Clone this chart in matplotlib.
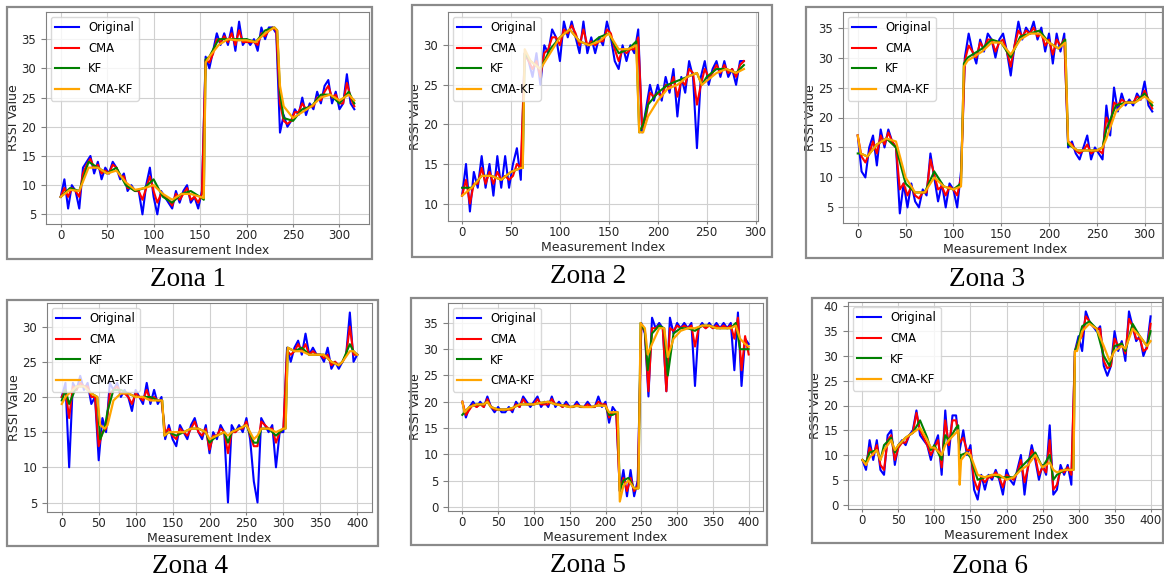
import matplotlib
matplotlib.use('Agg')
import matplotlib.pyplot as plt
from matplotlib.patches import Rectangle
from matplotlib.ticker import MultipleLocator
import numpy as np

W, H = 1164, 578

# ---- Zona 1 ----
Z1_LAST = 316
Z1_ORIGINAL = [8, 11, 6, 10, 9, 6, 13, 14, 15, 12,
               14, 11, 13, 12, 14, 13, 11, 12, 9, 10,
               9, 9, 5, 10, 13, 8, 5, 9, 8, 7,
               6, 9, 7, 9, 10, 7, 8, 6, 9, 32,
               30, 33, 36, 34, 36, 34, 37, 33, 38, 34,
               35, 34, 35, 33, 37, 35, 37, 37, 36, 19,
               22, 20, 21, 23, 22, 25, 22, 24, 23, 26,
               24, 27, 28, 24, 26, 23, 24, 29, 24, 23]
Z1_CMA = [8, 9.5, 8, 9.5, 9, 8, 12, 13.5, 14.5, 13,
          13.5, 12, 12.5, 12, 13.5, 13, 11.5, 11.5, 9.5, 9.5,
          9, 9, 7.5, 9.5, 11.5, 9, 7, 8.5, 8, 7.5,
          6.5, 8.5, 7.5, 8.5, 9.5, 7.5, 8, 7, 8.5, 31.5,
          31, 32.5, 35, 34.5, 35.5, 34.5, 36, 34, 36.5, 34.5,
          34.5, 34.5, 34.5, 34, 36, 35.5, 36.5, 37, 36.5, 24,
          21, 20.5, 21, 22.5, 22.5, 24, 23, 23.5, 23.5, 25,
          24.5, 26, 27, 25, 25.5, 24, 24, 27.5, 25, 23.5]
Z1_IDX = [0, 10, 20, 30, 40, 50, 60, 70, 80, 90, 100, 110, 120, 130, 140, 150,
          154, 156, 160, 170, 180, 190, 200, 210, 220, 230, 233, 236, 240, 250,
          260, 270, 280, 290, 300, 310, 316]
Z1_KF = [8, 9.5, 9, 14, 13, 12, 13, 10, 9, 9.5, 11, 8, 7, 8.5, 9, 8,
         7.5, 31.5, 32, 35, 35, 35, 35, 34.5, 36.5, 37, 36.5, 26, 21.5, 21,
         23, 23.5, 25.5, 25.5, 24, 26, 24]
Z1_CMA_KF = [8, 9.2, 9, 13, 13, 12, 12.5, 10.5, 9.2, 9.5, 10, 8.5, 7.5, 8.5, 8.5, 8,
             7.8, 31, 32, 34, 35, 34.8, 34.8, 34.5, 36, 37, 36.5, 27, 23.5, 21.5,
             22.5, 23.5, 25, 25.5, 24.5, 25.5, 24.5]

# ---- Zona 2 ----
Z2_LAST = 288
Z2_ORIGINAL = [11, 15, 9, 14, 12, 16, 12, 15, 11, 16,
               12, 16, 12, 15, 17, 13, 29, 28, 26, 29,
               25, 30, 29, 32, 31, 28, 33, 31, 33, 31,
               29, 33, 29, 31, 29, 31, 30, 33, 31, 28,
               27, 30, 28, 30, 29, 32, 19, 22, 25, 23,
               25, 23, 26, 24, 27, 21, 26, 24, 28, 26,
               17, 26, 28, 25, 27, 28, 26, 28, 26, 27,
               25, 28, 28]
Z2_CMA = [11, 13, 10, 12.5, 12.5, 14.5, 12.5, 14, 12.5, 14,
          13, 13.5, 13, 13.5, 15, 14.5, 29, 28, 27, 28,
          26, 29, 29.5, 31, 31, 30, 32, 31.5, 32.5, 31.5,
          30, 32, 30, 30.5, 30, 30.5, 30.5, 32, 31.5, 29.5,
          28, 29.5, 29, 29.5, 29.5, 31, 19.5, 21, 24, 23.5,
          24, 23.5, 25, 24.5, 26, 23.5, 25.5, 25, 27, 26.5,
          22.5, 25, 27, 26, 26.5, 27.5, 26.5, 27.5, 26.5, 27,
          26, 27.5, 28]
Z2_IDX = [0, 10, 20, 30, 40, 50, 60, 62, 64, 70, 80, 90, 100, 110, 120, 130,
          140, 150, 160, 170, 178, 181, 185, 190, 200, 210, 220, 230, 240, 245,
          250, 260, 270, 280, 288]
Z2_KF = [12, 12, 13.5, 13.5, 13, 14, 14.5, 14.5, 29, 28, 27, 29.5, 31, 32, 30.5, 30,
         31, 31.5, 29, 29.5, 30.5, 19, 20, 22.5, 24, 25, 25.5, 26, 26.5, 25,
         26, 27, 27, 26.5, 27.5]
Z2_CMA_KF = [11, 12, 13.5, 13.5, 13, 14, 14.5, 14.5, 29.5, 28, 27, 29, 31, 32, 30.5, 30,
             30.5, 31.5, 29.5, 29.5, 30, 19, 19, 21, 23, 24.5, 25, 26, 26.5, 25,
             25.5, 26.5, 27, 26.5, 27]

# ---- Zona 3 ----
Z3_LAST = 308
Z3_ORIGINAL = [17, 11, 10, 15, 17, 12, 18, 15, 18, 16,
               15, 4, 9, 5, 9, 6, 5, 8, 7, 14,
               10, 6, 9, 5, 9, 8, 5, 11, 30, 34,
               31, 29, 33, 31, 34, 33, 30, 33, 34, 31,
               27, 32, 36, 33, 35, 34, 36, 33, 35, 31,
               34, 29, 34, 31, 34, 15, 16, 14, 13, 15,
               17, 13, 15, 14, 13, 22, 17, 25, 21, 24,
               22, 23, 22, 24, 23, 26, 22, 21]
Z3_CMA = [17, 13.5, 12.5, 14, 16, 14, 17, 15.5, 17.5, 16,
          15, 8, 9, 7, 8.5, 7, 6.5, 7.5, 7.5, 13,
          10.5, 8, 8.5, 7, 8.5, 8, 7, 10, 29.5, 32,
          31, 30, 32.5, 31.5, 33, 33, 31, 32.5, 33, 31,
          28.5, 32, 34.5, 33.5, 34.5, 34, 35, 33.5, 34, 32,
          33, 30.5, 33, 32, 33, 16, 15.5, 14.5, 14, 14.5,
          15.5, 14, 14.5, 14.5, 14, 20, 18.5, 22.5, 22, 23,
          22.5, 22.5, 22.5, 23.5, 23, 24.5, 23, 21.5]
Z3_IDX = [0, 3, 10, 20, 30, 40, 50, 60, 70, 80, 90, 100, 108, 111, 115, 120,
          130, 140, 150, 160, 170, 180, 190, 200, 210, 217, 220, 225, 230, 240,
          250, 256, 260, 270, 280, 290, 300, 308]
Z3_KF = [14, 14, 13.5, 15.5, 16.5, 15, 9, 7.5, 7.5, 11, 8.5, 8, 9, 29, 30, 30.5,
         31.5, 33, 32.5, 30, 33.5, 34, 34.5, 32.5, 31.5, 33, 15.5, 15, 14.5, 14.5,
         14.5, 15, 18, 22, 22.5, 22.5, 24, 22]
Z3_CMA_KF = [17, 14, 13.5, 15.5, 16.5, 16, 10, 7.5, 7.5, 10, 8.5, 8, 8.5, 28.5, 29.5, 30,
             31, 32.5, 32.5, 30.5, 33, 34, 34, 32.5, 31.5, 32.5, 16, 15, 14.5, 14.5,
             14.5, 15, 16.5, 21, 22.5, 22.5, 23.5, 22.5]

# ---- Zona 4 ----
Z4_LAST = 400
Z4_ORIGINAL = [20, 22, 10, 22, 21, 23, 21, 22, 19, 20,
               11, 17, 15, 22, 21, 22, 20, 21, 20, 18,
               21, 20, 19, 22, 19, 21, 19, 20, 14, 16,
               14, 13, 16, 15, 14, 16, 17, 15, 14, 16,
               12, 15, 14, 16, 15, 5, 16, 15, 16, 15,
               17, 14, 8, 5, 17, 16, 15, 16, 10, 15,
               15, 27, 25, 27, 28, 26, 29, 26, 27, 26,
               26, 25, 27, 24, 25, 24, 25, 26, 32, 25,
               26]
Z4_CMA = [20, 21, 17, 21.5, 21, 22, 21.5, 21.5, 20, 20,
          13, 15, 15.5, 20.5, 21, 21.5, 20.5, 20.5, 20, 19,
          20.5, 20, 19.5, 21, 19.5, 20, 19.5, 19.5, 15, 15.5,
          14.5, 14, 15.5, 15, 14.5, 15.5, 16.5, 15, 14.5, 15.5,
          12.5, 14.5, 14.5, 15.5, 15, 12, 15, 15, 15.5, 15.5,
          16.5, 14.5, 13, 13, 16.5, 16, 15.5, 15.5, 13.5, 15,
          15.5, 26.5, 26, 26.5, 27.5, 26.5, 27.5, 26, 26.5, 26,
          26, 25.5, 26, 24.5, 25, 24.5, 25, 26, 30, 26,
          26]
Z4_IDX = [0, 5, 10, 20, 30, 40, 48, 52, 58, 62, 70, 80, 90, 100, 110, 120,
          130, 136, 139, 145, 155, 165, 175, 185, 195, 200, 210, 220, 225, 230,
          240, 250, 260, 265, 270, 280, 290, 300, 303, 306, 315, 325, 335, 345,
          355, 365, 375, 380, 390, 395, 400]
Z4_KF = [19.5, 21, 19, 21.5, 21.5, 20.5, 20, 14, 15.5, 18, 21, 21, 20.5, 20, 20, 20,
         19.5, 19.5, 14.5, 15, 14.5, 15, 15.5, 15.5, 15, 13.5, 14.5, 15, 13.5, 15,
         15.5, 16, 13.5, 13.5, 15.5, 15.5, 14.5, 15.5, 15.5, 27, 26.5, 27, 26, 26,
         26, 25, 24.5, 25, 27.5, 26.5, 26]
Z4_CMA_KF = [19, 20, 20.5, 21.5, 21.5, 20.5, 20, 16, 15.5, 16, 19.5, 20.5, 20.5, 20, 20, 19.5,
             19.5, 19.5, 14.5, 15, 15, 15, 15.5, 15.5, 15, 14, 14.5, 15, 14.5, 15,
             15.5, 16, 14, 14.5, 15.5, 15.5, 15, 15.5, 15.5, 27, 26.5, 26.5, 26, 26,
             26, 25, 24.5, 25, 26.5, 26.5, 26]

# ---- Zona 5 ----
Z5_LAST = 400
Z5_ORIGINAL = [20, 17, 19, 20, 19, 20, 19, 21, 19, 18,
               19, 18, 18, 19, 18, 20, 19, 21, 20, 19,
               20, 21, 19, 20, 19, 21, 19, 20, 19, 20,
               19, 19, 20, 19, 19, 20, 19, 19, 21, 19,
               20, 16, 19, 18, 3, 7, 2, 7, 2, 5,
               35, 33, 21, 36, 34, 35, 34, 22, 36, 33,
               35, 34, 35, 34, 35, 23, 34, 35, 34, 35,
               34, 35, 34, 35, 34, 35, 26, 37, 23, 32,
               31]
Z5_CMA = [20, 17.5, 18.5, 19.5, 19, 19.5, 19, 20.5, 19, 18.5,
          18.5, 18.5, 18.5, 18.5, 18.5, 19.5, 19, 20.5, 19.5, 19.5,
          19.5, 20.5, 19.5, 19.5, 19.5, 20.5, 19.5, 19.5, 19, 19.5,
          19, 19, 19.5, 19, 19, 19.5, 19, 19, 20, 19.5,
          19.5, 17, 18, 18, 3, 5.5, 3, 5.5, 3, 4,
          34.5, 33.5, 22, 34, 34, 34.5, 34, 22, 34, 33.5,
          34.5, 34, 34.5, 34, 34.5, 30.5, 34, 34.5, 34, 34.5,
          34, 34.5, 34, 34.5, 34, 34.5, 32, 36, 26, 32.5,
          29]
Z5_IDX = [0, 3, 10, 20, 30, 35, 40, 50, 60, 70, 80, 90, 100, 110, 120, 130,
          140, 150, 160, 170, 180, 190, 200, 205, 210, 217, 220, 225, 232, 240,
          246, 249, 255, 259, 265, 275, 282, 287, 295, 305, 315, 325, 335, 345,
          355, 365, 375, 382, 388, 395, 400]
Z5_KF = [17.5, 18, 19, 19.5, 19.5, 20, 19, 18.5, 18.5, 18.8, 19.5, 19.5, 19.5, 19.8, 20, 19.5,
         19.3, 19, 19.2, 19, 19, 19.3, 19.2, 17.5, 17.5, 18, 3, 5, 5.5, 3.5,
         3.5, 35, 33.5, 26, 33, 34.5, 34, 25, 33, 34, 34, 33.5, 34.5, 34.5,
         34, 34, 34, 35, 30, 30, 30]
Z5_CMA_KF = [20, 18, 19, 19.5, 19.5, 20, 19, 18.5, 18.5, 18.8, 19.5, 19.5, 19.5, 19.8, 20, 19.5,
             19.3, 19, 19.2, 19, 19, 19.3, 19.2, 18, 18, 18, 1, 4, 5, 3.5,
             3.5, 35, 34, 29, 31, 34, 34, 28.5, 32, 33.5, 34, 34, 34.5, 34.5,
             34, 34, 34, 34.5, 32, 31, 30.5]

# ---- Zona 6 ----
Z6_LAST = 400
Z6_ORIGINAL = [9, 7, 13, 9, 13, 7, 6, 14, 15, 8,
               12, 13, 12, 14, 15, 19, 14, 13, 12, 9,
               12, 14, 6, 19, 10, 18, 18, 11, 15, 10,
               12, 3, 1, 6, 3, 6, 5, 7, 5, 2,
               7, 5, 4, 7, 10, 2, 8, 12, 9, 5,
               8, 6, 16, 2, 3, 8, 6, 8, 4, 31,
               34, 31, 39, 37, 36, 35, 36, 28, 26, 28,
               35, 31, 33, 29, 39, 36, 33, 34, 30, 32,
               38]
Z6_CMA = [9, 8, 11.5, 10, 12, 8, 7, 13, 14, 9,
          11.5, 12.5, 12.5, 14, 14.5, 18.5, 15, 13.5, 12, 10,
          11.5, 13, 7.5, 17, 12, 17, 17, 12.5, 13.5, 11,
          11, 5, 3, 5.5, 4.5, 5.5, 5.5, 6.5, 5.5, 3.5,
          6, 5.5, 5, 6.5, 9, 4.5, 7.5, 11, 9.5, 6,
          7.5, 6.5, 13, 3, 4, 7, 6.5, 7.5, 6, 31,
          33, 34, 38, 37, 36, 35.5, 35.5, 29, 27.5, 28,
          33.5, 32, 32.5, 30.5, 37.5, 36, 33.5, 33.5, 31, 31.5,
          36.5]
Z6_IDX = [0, 5, 10, 20, 25, 30, 40, 45, 50, 60, 70, 80, 90, 95, 100, 110,
          115, 120, 130, 133, 135, 137, 145, 150, 160, 170, 180, 190, 200, 210,
          220, 230, 240, 250, 260, 265, 270, 280, 290, 293, 295, 298, 305, 315,
          325, 335, 343, 350, 360, 365, 375, 385, 395, 400]
Z6_KF = [9, 8.5, 10.5, 11, 9, 12, 13.5, 10.5, 12, 13.5, 14.5, 17, 13.5, 11, 12, 9,
         14, 13, 15.5, 16, 9, 10, 10.5, 9.5, 5, 5.5, 6, 5.5, 5.5, 5.5,
         7.5, 9, 10.5, 7.5, 10, 5, 6, 7, 7, 7, 31, 32, 36, 37,
         35.5, 30, 28, 32, 32.5, 31, 36.5, 34, 32, 35]
Z6_CMA_KF = [9, 8, 9.5, 11, 9, 11, 13, 11, 12, 13.5, 14.5, 15.5, 13, 11.5, 11.5, 10,
             12, 13, 14.5, 15, 4, 9, 10.5, 10, 6, 5.5, 6, 6, 5, 5.5,
             7, 8, 10, 7.5, 8.5, 7, 6.5, 7, 7, 7, 31, 31, 35, 36.5,
             35.5, 32, 29, 31, 32, 31.5, 35.5, 34, 32, 33]

ZONES = [
    ('Zona 1', Z1_LAST, Z1_ORIGINAL, Z1_CMA, Z1_IDX, Z1_KF, Z1_CMA_KF),
    ('Zona 2', Z2_LAST, Z2_ORIGINAL, Z2_CMA, Z2_IDX, Z2_KF, Z2_CMA_KF),
    ('Zona 3', Z3_LAST, Z3_ORIGINAL, Z3_CMA, Z3_IDX, Z3_KF, Z3_CMA_KF),
    ('Zona 4', Z4_LAST, Z4_ORIGINAL, Z4_CMA, Z4_IDX, Z4_KF, Z4_CMA_KF),
    ('Zona 5', Z5_LAST, Z5_ORIGINAL, Z5_CMA, Z5_IDX, Z5_KF, Z5_CMA_KF),
    ('Zona 6', Z6_LAST, Z6_ORIGINAL, Z6_CMA, Z6_IDX, Z6_KF, Z6_CMA_KF),
]

# screenshot frame, plot area (left, top, right, bottom in px) and caption anchor
LAYOUT = [
    ((7, 7, 372, 259), (46, 12, 369, 224), (188, 286)),
    ((412, 5, 772, 257), (448, 12, 758, 221), (588, 283)),
    ((806, 7, 1163, 258), (843, 12, 1167, 223), (987, 286)),
    ((7, 300, 378, 546), (47, 303, 372, 512), (190, 573)),
    ((411, 298, 767, 545), (448, 303, 763, 511), (588, 572)),
    ((812, 298, 1163, 543), (848, 302, 1165, 509), (990, 573)),
]


def px_rect(box):
    """
    Turns a pixel box (left, top, right, bottom) into figure fractions.
    """
    l, t, r, b = box
    return [l / W, 1 - b / H, (r - l) / W, (b - t) / H]


def draw_zone(fig, zone, layout):
    name, last, original, cma, idx, kf, cma_kf = zone
    frame, area, caption = layout

    fx, fy, fw, fh = px_rect(frame)
    fig.patches.append(Rectangle((fx, fy), fw, fh, transform=fig.transFigure,
                                 fill=False, edgecolor='#8a8a8a', linewidth=1.6))

    ax = fig.add_axes(px_rect(area))
    x_raw = np.linspace(0, last, len(original))
    x_cma = np.linspace(0, last, len(cma))
    ax.plot(x_raw, original, color='blue', lw=1.5, label='Original')
    ax.plot(x_cma, cma, color='red', lw=1.5, label='CMA')
    ax.plot(idx, kf, color='green', lw=1.5, label='KF')
    ax.plot(idx, cma_kf, color='orange', lw=1.6, label='CMA-KF')

    ax.xaxis.set_major_locator(MultipleLocator(50))
    ax.yaxis.set_major_locator(MultipleLocator(5))
    ax.grid(True, color='#d0d0d0', linewidth=0.8)
    ax.set_axisbelow(True)
    for spine in ax.spines.values():
        spine.set_color('#808080')
        spine.set_linewidth(0.8)
    ax.tick_params(labelsize=8.5, colors='#808080', labelcolor='#262626')
    ax.tick_params(axis='x', length=2, pad=1.5)
    ax.set_xlabel('Measurement Index', fontsize=9, color='#262626', labelpad=1.5)
    ax.set_ylabel('RSSI Value', fontsize=9, color='#262626', labelpad=1)
    ax.legend(loc='upper left', fontsize=8.4, framealpha=0.8, labelspacing=0.65,
              edgecolor='#d0d0d0', borderaxespad=0.4)

    fig.text(caption[0] / W, 1 - caption[1] / H, name, ha='center',
             va='baseline', family='Liberation Serif', fontsize=19.5)


def main():
    fig = plt.figure(figsize=(W / 100, H / 100), dpi=100)
    for zone, layout in zip(ZONES, LAYOUT):
        draw_zone(fig, zone, layout)
    fig.savefig('out.png', dpi=100, facecolor='white')


if __name__ == '__main__':
    main()
